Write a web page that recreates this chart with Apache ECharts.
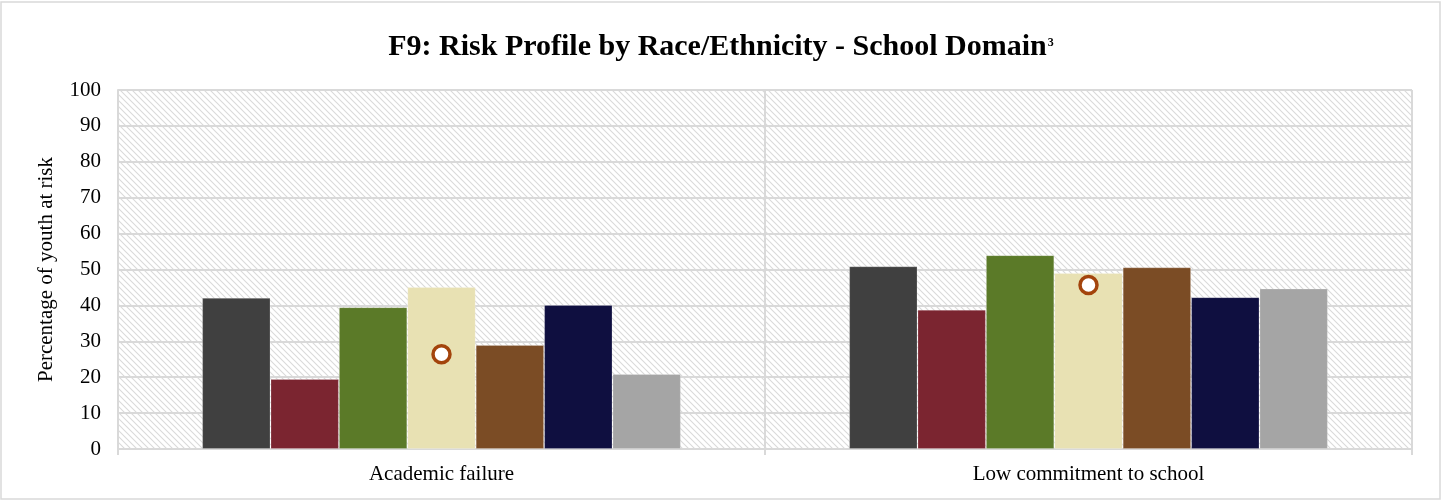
<!DOCTYPE html>
<html>
<head>
<meta charset="utf-8">
<script src="https://cdn.jsdelivr.net/npm/echarts@6/dist/echarts.min.js"></script>
<style>
  html, body { margin: 0; padding: 0; background: #fff; }
  #chart { width: 1442px; height: 502px; }
</style>
</head>
<body>
<div id="chart"></div>
<script>
// Risk domains on the x axis
const categories = ['Academic failure', 'Low commitment to school'];

// Percentage of youth at risk, one array per group
const group1 = [42.1, 50.9];
const group2 = [19.5, 38.8];
const group3 = [39.5, 54.0];
const group4 = [45.1, 49.0];
const group5 = [29.0, 50.6];
const group6 = [40.1, 42.3];
const group7 = [20.9, 44.7];
// Overall reference value shown as a circle marker
const overall = [26.4, 45.7];

const yTicks = { min: 0, max: 100, interval: 10 };

const groups = [group1, group2, group3, group4, group5, group6, group7];
const groupColors = ['#404040', '#7B2530', '#5B7A28', '#E8E1B3', '#7B4C25', '#0F0F40', '#A5A5A5'];
const groupNames = ['Group 1', 'Group 2', 'Group 3', 'Group 4', 'Group 5', 'Group 6', 'Group 7'];

// Diagonal hatch used as the plot background
function makeHatch() {
  const c = document.createElement('canvas');
  c.width = 6; c.height = 6;
  const ctx = c.getContext('2d');
  ctx.fillStyle = '#ffffff';
  ctx.fillRect(0, 0, 6, 6);
  ctx.strokeStyle = '#dadada';
  ctx.lineWidth = 1.1;
  ctx.beginPath();
  ctx.moveTo(-1, -1); ctx.lineTo(7, 7);
  ctx.moveTo(-4, 2); ctx.lineTo(4, 10);
  ctx.moveTo(2, -4); ctx.lineTo(10, 4);
  ctx.stroke();
  return c;
}

const chart = echarts.init(document.getElementById('chart'), null, { renderer: 'canvas' });

const serif = '"Liberation Serif", "Times New Roman", serif';

const series = groups.map((vals, i) => ({
  name: groupNames[i],
  type: 'bar',
  data: vals,
  barGap: '0%',
  barCategoryGap: '26%',
  itemStyle: {
    color: groupColors[i],
    borderColor: 'rgba(255,255,255,0.2)',
    borderWidth: 1
  },
  z: 2
}));

series.push({
  name: 'Overall',
  type: 'scatter',
  data: overall,
  symbol: 'circle',
  symbolSize: 17,
  itemStyle: { color: '#ffffff', borderColor: '#A3440C', borderWidth: 3.5, opacity: 1 },
  z: 5
});

chart.setOption({
  animation: false,
  backgroundColor: '#ffffff',
  graphic: [{
    type: 'rect',
    shape: { x: 1, y: 2, width: 1439, height: 497 },
    style: { fill: 'none', stroke: '#d9d9d9', lineWidth: 1.5 },
    z: -10
  }],
  title: {
    text: '{t|F9: Risk Profile by Race/Ethnicity - School Domain}{s|3}',
    left: 'center',
    top: 27,
    textStyle: {
      rich: {
        t: { fontFamily: serif, fontWeight: 'bold', fontSize: 30, color: '#000' },
        s: { fontFamily: serif, fontWeight: 'bold', fontSize: 12, color: '#000', padding: [0, 0, 8, 1] }
      }
    }
  },
  grid: {
    left: 118, right: 30, top: 90, bottom: 53,
    show: true,
    borderWidth: 0,
    backgroundColor: { image: makeHatch(), repeat: 'repeat' }
  },
  xAxis: {
    type: 'category',
    data: categories,
    axisLine: { show: true, lineStyle: { color: '#d9d9d9', width: 2 } },
    axisTick: { show: true, alignWithLabel: false, length: 6, lineStyle: { color: '#d9d9d9', width: 2 } },
    splitLine: { show: true, lineStyle: { color: '#d9d9d9', width: 2 } },
    axisLabel: { fontFamily: serif, fontSize: 21, color: '#000', margin: 15 }
  },
  yAxis: {
    type: 'value',
    min: yTicks.min, max: yTicks.max, interval: yTicks.interval,
    name: 'Percentage of youth at risk',
    nameLocation: 'middle',
    nameGap: 61,
    nameTextStyle: { fontFamily: serif, fontSize: 21, color: '#000' },
    axisLine: { show: true, lineStyle: { color: '#d9d9d9', width: 2 } },
    axisTick: { show: false },
    splitLine: { show: true, lineStyle: { color: '#d9d9d9', width: 2 } },
    axisLabel: { fontFamily: serif, fontSize: 21, color: '#000', margin: 17 }
  },
  series: series
});
</script>
</body>
</html>
